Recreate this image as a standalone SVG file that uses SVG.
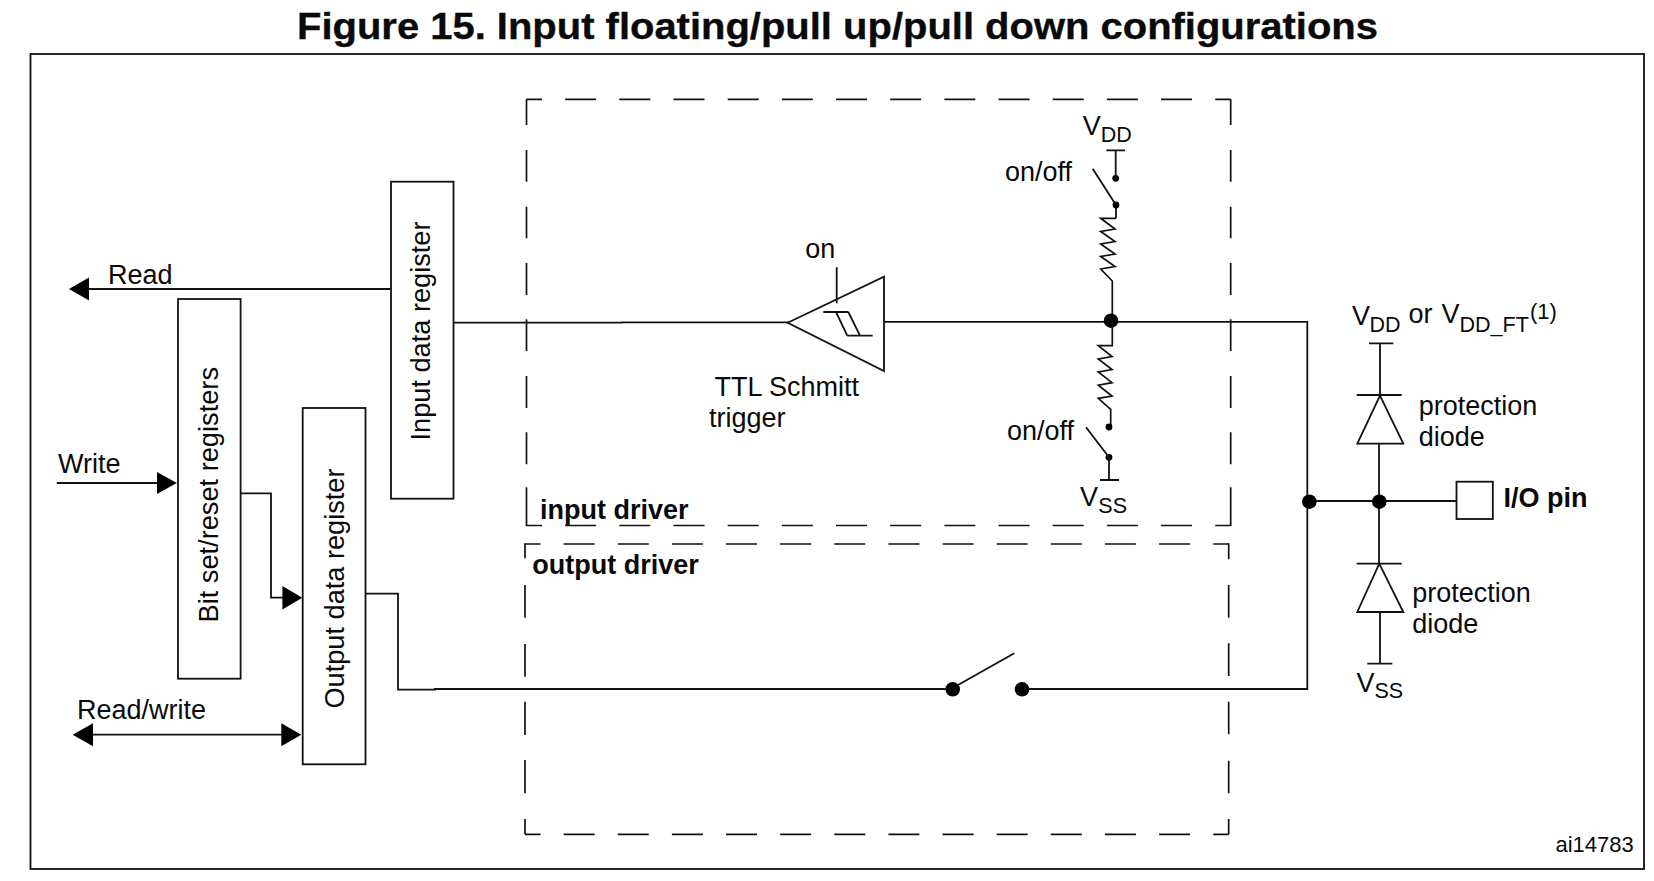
<svg xmlns="http://www.w3.org/2000/svg" width="1654" height="881" viewBox="0 0 1654 881">
<style>
text{font-family:"Liberation Sans",Arial,sans-serif;font-size:27px;fill:#0a0a0a}
.b{font-weight:bold}
.sub{font-size:21.5px}
.ref{font-size:22px}
.l{fill:none;stroke:#111;stroke-width:1.8}
.box{fill:#fff;stroke:#111;stroke-width:1.8}
.d{fill:none;stroke:#111;stroke-width:1.7}
.f{fill:#000;stroke:none}
.res{fill:none;stroke:#111;stroke-width:1.7}
</style>
<rect width="1654" height="881" fill="#fff"/>
<text id="title" class="b" x="297" y="39" style="font-size:36.7px;stroke:#0a0a0a;stroke-width:.35" textLength="1081" lengthAdjust="spacingAndGlyphs">Figure 15. Input floating/pull up/pull down configurations</text>
<rect id="frame" class="l" x="30.5" y="54" width="1613.5" height="815"/>
<g id="connectors">
<path class="l" d="M393.5 289H85"/><path class="f" d="M69 289L89 277.5V300.5Z"/>
<path class="l" d="M453.5 322.7H622V322.3H790"/>
<path class="l" d="M884 321.8H1307.3V689H1022"/>
<path class="l" d="M56.8 483H160"/><path class="f" d="M176.8 483L157 472V494Z"/>
<path class="l" d="M239.6 493.3H271V597.7H285"/><path class="f" d="M302.3 597.7L282.4 586V609.4Z"/>
<path class="l" d="M90 734.7H285"/><path class="f" d="M72.6 734.7L93 723.2V746.2Z"/><path class="f" d="M301.3 734.7L281.3 723.2V746.2Z"/>
<path class="l" d="M363.7 593.7H398V689.7H435V689H952.7"/>
<path class="l" d="M1379 443.7V563.7"/>
<path class="l" d="M1309 501H1456"/>
</g>
<g id="input-driver-box">
<path class="d" stroke-dasharray="31 23.17" stroke-dashoffset="15.5" d="M526.5 99.3H1230.7"/>
<path class="d" d="M526.5 99.3V125M526.5 150V181.7M526.5 206.7V238.3M526.5 263V295M526.5 319.3V351M526.5 376V408M526.5 432.3V464.3M526.5 487.3V526M1230.7 99.3V125M1230.7 150V181.7M1230.7 206.7V238.3M1230.7 263V295M1230.7 319.3V351M1230.7 376V408M1230.7 432.3V464.3M1230.7 487.3V526"/>
<path class="d" stroke-dasharray="31 23.17" stroke-dashoffset="15.5" d="M526.5 525.5H1230.7"/>
<text class="b" x="540" y="519.3">input driver</text>
</g>
<g id="output-driver-box">
<path class="d" stroke-dasharray="31 23.13" stroke-dashoffset="15.5" d="M525 544H1228.7"/>
<path class="d" d="M525 543.3V558.3M525 585V617.7M525 644V676.7M525 701.7V735M525 760V793.3M525 819V834.3M1228.7 543.3V559.3M1228.7 585V617.7M1228.7 643.3V676M1228.7 701.7V734.3M1228.7 760.7V793.3M1228.7 819V834.3"/>
<path class="d" stroke-dasharray="31 23.13" stroke-dashoffset="15.5" d="M525 834.3H1228.7"/>
<text class="b" x="532.3" y="574.3">output driver</text>
</g>
<g id="input-data-register"><rect class="box" x="391" y="181.7" width="62.5" height="317"/><text transform="translate(429.7 440.5) rotate(-90)" textLength="219" lengthAdjust="spacingAndGlyphs">Input data register</text></g>
<g id="bit-set-reset-registers"><rect class="box" x="178" y="299" width="62.6" height="379.7"/><text transform="translate(218 622.5) rotate(-90)" textLength="255.5" lengthAdjust="spacingAndGlyphs">Bit set/reset registers</text></g>
<g id="output-data-register"><rect class="box" x="302.7" y="408" width="62.8" height="356.3"/><text transform="translate(343.7 708.5) rotate(-90)" textLength="240" lengthAdjust="spacingAndGlyphs">Output data register</text></g>
<g id="labels">
<text x="108" y="283.7">Read</text>
<text x="58" y="473.3">Write</text>
<text x="77" y="718.7">Read/write</text>
</g>
<g id="schmitt-trigger">
<path class="box" d="M787.7 322.7L884 276.7V371Z"/>
<path class="l" d="M836.7 267.3V303.3M823.3 312H848.3M836 312L847.3 335.7M848.3 312L860 335.7M847.3 335.7H872.7"/>
<text x="805.3" y="257.7">on</text>
<text x="714.5" y="395.7">TTL Schmitt</text>
<text x="709" y="426.5">trigger</text>
</g>
<g id="pull-up">
<path class="l" d="M1106.3 150.3H1125M1115.7 150.3V178.3M1092.7 168.7L1116 205V218.3"/>
<circle class="f" cx="1115.7" cy="178.3" r="3.4"/><circle class="f" cx="1116" cy="205" r="3.4"/>
<path class="res" d="M1116 218.3H1100.7L1115 229L1100.7 231.5L1115 241.5L1100.7 244L1115 254L1100.7 256.5L1115 266.5L1100.7 269L1112.3 281V322"/>
<text x="1005" y="181">on/off</text>
<text x="1082.7" y="135">V</text><text class="sub" x="1100.7" y="142">DD</text>
</g>
<g id="node-input"><circle class="f" cx="1111" cy="320.7" r="7.2"/></g>
<g id="pull-down">
<path class="res" d="M1112.3 322V345.7H1098.3L1112 356.5L1098.3 358.9L1112 369.5L1098.3 372L1112 382.7L1098.3 385.2L1112 396L1098.3 398.3L1110.7 409.3V427"/>
<circle class="f" cx="1109" cy="427" r="3.4"/><circle class="f" cx="1109" cy="457.3" r="3.4"/>
<path class="l" d="M1086 427.3L1109 457.3V480M1100 480H1119"/>
<text x="1007" y="440">on/off</text>
<text x="1080" y="506">V</text><text class="sub" x="1098.3" y="512.7">SS</text>
</g>
<g id="output-switch">
<circle class="f" cx="952.7" cy="689.3" r="7.3"/><circle class="f" cx="1022" cy="689.3" r="7.3"/>
<path class="l" d="M958 685L1014.3 653.3"/>
</g>
<g id="upper-diode">
<path class="l" d="M1369 343.3H1393.3M1380 343.3V395M1356.7 395H1401.7"/>
<path class="l" d="M1380 395.7L1403.3 443.7H1357.3Z"/>
<text x="1352" y="325">V</text><text class="sub" x="1369.5" y="331.7">DD</text>
<text x="1408.5" y="323.3">or</text>
<text x="1441.5" y="323.3">V</text><text class="sub" x="1459.5" y="331.7">DD_FT</text><text class="ref" x="1530" y="319">(1)</text>
<text x="1418.7" y="415">protection</text><text x="1418.7" y="445.7">diode</text>
</g>
<g id="lower-diode">
<path class="l" d="M1356.7 563.7H1401.7"/>
<path class="l" d="M1379.3 563.7L1403.3 612H1357.3Z"/>
<path class="l" d="M1380 612V663.7M1367.3 663.7H1392.3"/>
<text x="1356.5" y="691.7">V</text><text class="sub" x="1374.5" y="698.3">SS</text>
<text x="1412.3" y="601.7">protection</text><text x="1412.3" y="633.3">diode</text>
</g>
<g id="junctions"><circle class="f" cx="1309.3" cy="501.7" r="7.3"/><circle class="f" cx="1379.3" cy="501.7" r="7.3"/></g>
<g id="io-pin"><rect class="box" x="1456.5" y="481.7" width="36.3" height="37.3"/><text class="b" x="1503.5" y="506.7">I/O pin</text></g>
<text id="ref" class="ref" x="1555.5" y="852">ai14783</text>
</svg>
